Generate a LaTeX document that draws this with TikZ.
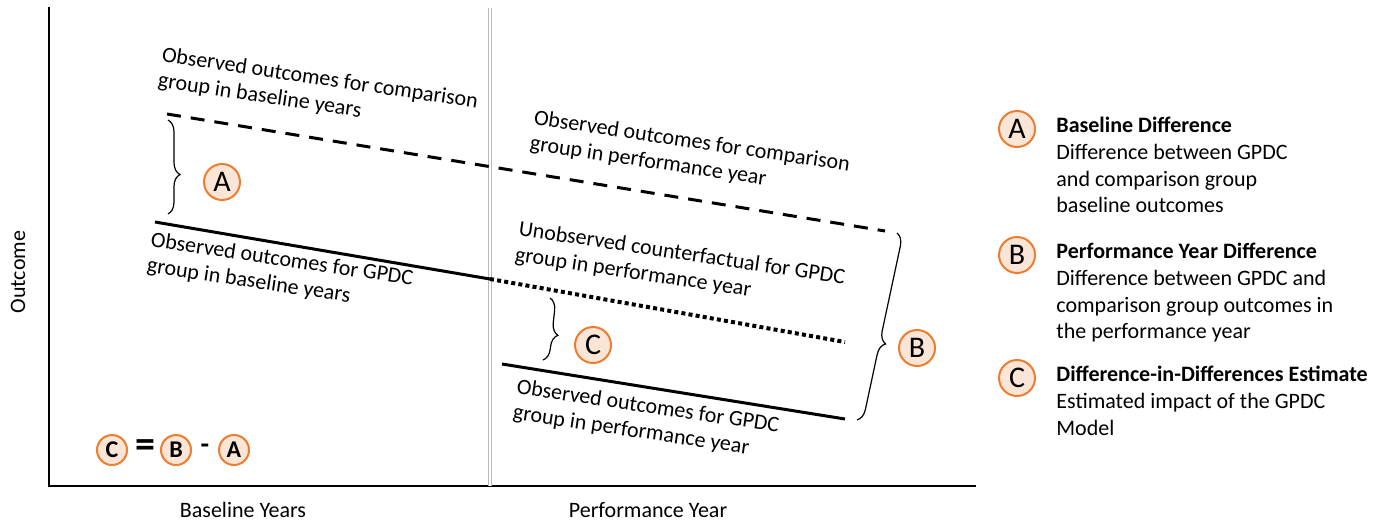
\documentclass[tikz,border=0pt]{standalone}
\usepackage{fontspec}
\setmainfont{Carlito}
\usetikzlibrary{decorations.pathreplacing}
\definecolor{ringorange}{HTML}{ED7D31}
\definecolor{ringfill}{HTML}{FBE5D6}

\begin{document}
\begin{tikzpicture}[x=0.5pt, y=-0.5pt,
    letter/.style={circle, draw=ringorange, fill=ringfill, line width=1pt, minimum size=18pt, inner sep=0pt, font=\fontsize{15}{15}\selectfont},
    smallletter/.style={letter, minimum size=15pt, font=\fontsize{12}{12}\selectfont\bfseries},
    note/.style={align=left, rotate=-8.5, font=\fontsize{11}{13}\selectfont, inner sep=0pt},
    legendtext/.style={align=left, anchor=north west, font=\fontsize{11}{13.3}\selectfont, inner sep=0pt},
    curly/.style={decorate, decoration={brace, amplitude=6pt, aspect=0.58}, line width=0.6pt}]
    \path[use as bounding box] (0,0) rectangle (1395,525);

    % Axes and the year divider
    \draw[line width=1.3pt, line cap=rect] (49,8) -- (49,486) -- (975,486);
    \draw[draw=gray!55, line width=0.6pt, double=white, double distance=1pt] (490,8) -- (490,486);
    \node[font=\fontsize{11}{13}\selectfont, rotate=90] (ylab) at (18,272) {Outcome};
    \node[font=\fontsize{11}{13}\selectfont] (baselab) at (243,510) {Baseline Years};
    \node[font=\fontsize{11}{13}\selectfont] (perflab) at (648,510) {Performance Year};

    \coordinate (cmpA) at (167,114);
    \coordinate (cmpB) at (885,231);
    \coordinate (gpdcA) at (155,222);
    \coordinate (gpdcB) at (490,279);
    \coordinate (cfB) at (845,342);
    \coordinate (perfA) at (502,364);
    \coordinate (perfB) at (845,419);

    % Outcome lines
    \draw[line width=1.5pt, dash pattern=on 7pt off 5pt] (cmpA) -- (cmpB);
    \draw[line width=1.5pt] (gpdcA) -- (gpdcB);
    \draw[line width=2pt, dash pattern=on 2pt off 1.6pt] (gpdcB) -- (cfB);
    \draw[line width=1.5pt] (perfA) -- (perfB);

    \node[note] (cmpbase) at (318,92) {Observed outcomes for comparison\\group in baseline years};
    \node[note] (cmpperf) at (690,155) {Observed outcomes for comparison\\group in performance year};
    \node[note] (gpdcbase) at (280,273) {Observed outcomes for GPDC\\group in baseline years};
    \node[note] (cfperf) at (680,267) {Unobserved counterfactual for GPDC\\group in performance year};
    \node[note] (gpdcperf) at (646,420) {Observed outcomes for GPDC\\group in performance year};

    % Braces
    \coordinate (braceAt) at (168,120);
    \coordinate (braceAb) at (168,214);
    \coordinate (braceCt) at (550,298);
    \coordinate (braceCb) at (543,360);
    \coordinate (braceBt) at (897,233);
    \coordinate (braceBb) at (857,420);
    \draw[curly] (braceAt) -- (braceAb);
    \draw[curly] (braceCt) -- (braceCb);
    \draw[curly] (braceBt) -- (braceBb);
    \node[letter] (A) at (222,182) {A};
    \node[letter] (C) at (593,345) {C};
    \node[letter] (B) at (917,348) {B};

    % Equation
    \node[smallletter] (eqC) at (112,450) {C};
    \node[font=\fontsize{20}{20}\selectfont\bfseries] (eq) at (145,449) {=};
    \node[smallletter] (eqB) at (176,450) {B};
    \node[font=\fontsize{14}{14}\selectfont\bfseries] (minus) at (205,449) {-};
    \node[smallletter] (eqA) at (234,450) {A};

    % Legend
    \node[letter] (keyA) at (1017,129) {A};
    \node[letter] (keyB) at (1017,255) {B};
    \node[letter] (keyC) at (1017,378) {C};
    \node[legendtext] (textA) at (1056,117) {\textbf{Baseline Difference}\\Difference between GPDC\\and comparison group\\baseline outcomes};
    \node[legendtext] (textB) at (1056,243) {\textbf{Performance Year Difference}\\Difference between GPDC and\\comparison group outcomes in\\the performance year};
    \node[legendtext] (textC) at (1056,366) {\textbf{Difference-in-Differences Estimate}\\Estimated impact of the GPDC\\Model};

\end{tikzpicture}
\end{document}
